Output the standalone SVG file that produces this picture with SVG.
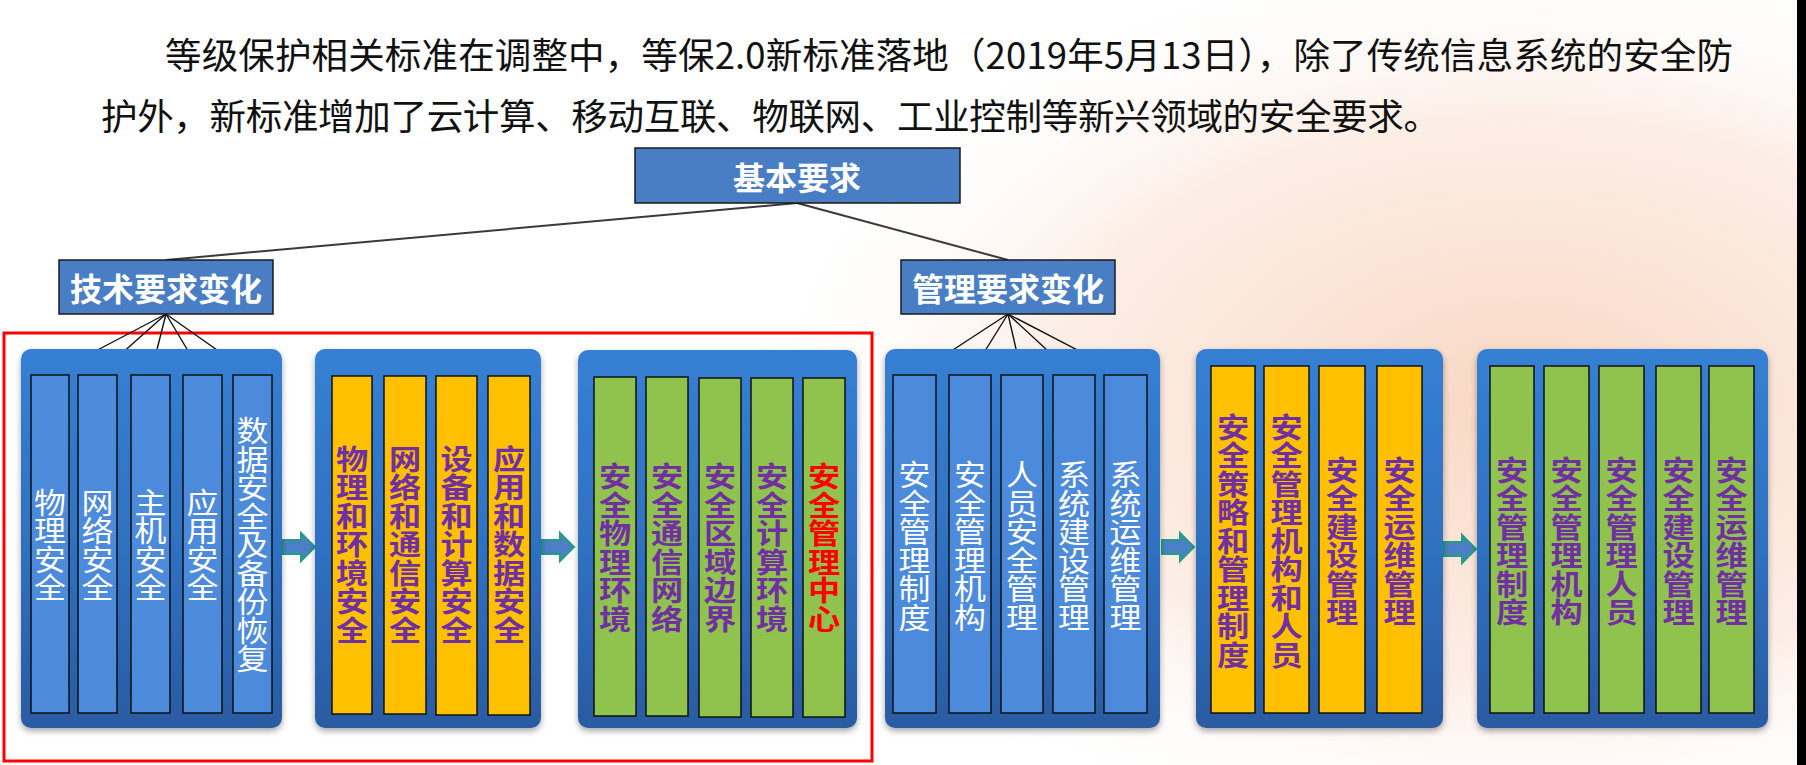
<svg xmlns="http://www.w3.org/2000/svg" width="1806" height="765" viewBox="0 0 1806 765">
<defs>
<style>
.para{font-family:"Noto Sans CJK SC","Noto Sans",sans-serif;font-size:36.5px;fill:#111}
.box{fill:#4A7EC4;stroke:#1a1a1a;stroke-width:1.5}
.lbl{font-family:"Noto Sans CJK SC",sans-serif;font-weight:bold;font-size:32px;fill:#fff;text-anchor:middle;dominant-baseline:central}
.panel{fill:url(#pg);filter:url(#sh)}
.cb{fill:#4C8ADB;stroke:#111;stroke-width:1.5}
.co{fill:#FFC000;stroke:#111;stroke-width:1.5}
.cg{fill:#90C34E;stroke:#111;stroke-width:1.5}
.vt{font-family:"Noto Sans CJK SC",sans-serif;text-anchor:middle;dominant-baseline:central}
.vw{fill:#fff;font-size:29px}
.vp{fill:#7030A0;font-weight:bold;font-size:28px}
.vr{fill:#FF0000;font-weight:bold;font-size:28px}
.ln{stroke:#3a3a3a;stroke-width:2;fill:none}
.fan{stroke:#111;stroke-width:1.4;fill:none}
.arr{fill:#4D7FC6;stroke:#22A07E;stroke-width:2;stroke-linejoin:miter}
</style>
<linearGradient id="pg" x1="0" y1="0" x2="0" y2="1">
<stop offset="0" stop-color="#3580D4"/>
<stop offset="0.55" stop-color="#2F70C0"/>
<stop offset="1" stop-color="#2A5BA2"/>
</linearGradient>
<radialGradient id="bgp" cx="1520" cy="400" r="780" gradientUnits="userSpaceOnUse" gradientTransform="translate(1520 400) scale(1 0.6) translate(-1520 -400)">
<stop offset="0" stop-color="#F7C9AE" stop-opacity="0.75"/>
<stop offset="0.6" stop-color="#F9D8C6" stop-opacity="0.45"/>
<stop offset="1" stop-color="#FFFFFF" stop-opacity="0"/>
</radialGradient>
<filter id="sh" x="-10%" y="-10%" width="120%" height="120%">
<feDropShadow dx="0" dy="3" stdDeviation="3" flood-color="#000" flood-opacity="0.35"/>
</filter>
<path id="arrow" d="M0,-7 H18 V-14 L32,0 L18,14 V7 H0 Z"/>
</defs>

<rect x="0" y="0" width="1806" height="765" fill="#fff"/>
<rect x="0" y="0" width="1806" height="765" fill="url(#bgp)"/>
<rect x="1797" y="0" width="9" height="765" fill="#000"/>

<g id="paragraph">
<text class="para" x="165" y="68.5" textLength="1568" lengthAdjust="spacing">等级保护相关标准在调整中，等保2.0新标准落地（2019年5月13日），除了传统信息系统的安全防</text>
<text class="para" x="101" y="130" textLength="1339" lengthAdjust="spacing">护外，新标准增加了云计算、移动互联、物联网、工业控制等新兴领域的安全要求。</text>
</g>

<rect id="highlight" x="4" y="333" width="868" height="428" fill="none" stroke="#FF0000" stroke-width="3"/>

<g id="connectors">
<line class="ln" x1="797" y1="203" x2="166" y2="260"/>
<line class="ln" x1="797" y1="203" x2="1008" y2="260"/>
<line class="fan" x1="166" y1="314" x2="50" y2="375"/>
<line class="fan" x1="166" y1="314" x2="97.5" y2="375"/>
<line class="fan" x1="166" y1="314" x2="150.5" y2="375"/>
<line class="fan" x1="166" y1="314" x2="202.5" y2="375"/>
<line class="fan" x1="166" y1="314" x2="252.5" y2="375"/>
<line class="fan" x1="1008" y1="314" x2="914.5" y2="375"/>
<line class="fan" x1="1008" y1="314" x2="970" y2="375"/>
<line class="fan" x1="1008" y1="314" x2="1022" y2="375"/>
<line class="fan" x1="1008" y1="314" x2="1074" y2="375"/>
<line class="fan" x1="1008" y1="314" x2="1125.5" y2="375"/>
<use href="#arrow" class="arr" x="283" y="547"/>
<use href="#arrow" class="arr" x="542" y="547"/>
<use href="#arrow" class="arr" x="1162" y="547"/>
<use href="#arrow" class="arr" x="1444" y="549"/>
</g>

<g id="node-basic">
<rect class="box" x="635" y="148" width="325" height="55"/>
<text class="lbl" x="797" y="176">基本要求</text>
</g>
<g id="node-tech">
<rect class="box" x="59" y="260" width="214" height="54"/>
<text class="lbl" x="166" y="287">技术要求变化</text>
</g>
<g id="node-mgmt">
<rect class="box" x="901" y="260" width="214" height="54"/>
<text class="lbl" x="1008" y="287">管理要求变化</text>
</g>

<g id="panel-tech-old">
<rect class="panel" x="21" y="349" width="261" height="379" rx="10"/>
<g id="t1"><rect class="cb" x="31" y="375" width="38" height="338"/>
<text class="vt vw" transform="matrix(1.1 0 0 1 -5 0)" x="50 50 50 50" y="501.25 529.75 558.25 586.75">物理安全</text></g>
<g id="t2"><rect class="cb" x="78" y="375" width="39" height="338"/>
<text class="vt vw" transform="matrix(1.1 0 0 1 -9.75 0)" x="97.5 97.5 97.5 97.5" y="501.25 529.75 558.25 586.75">网络安全</text></g>
<g id="t3"><rect class="cb" x="131" y="375" width="39" height="338"/>
<text class="vt vw" transform="matrix(1.1 0 0 1 -15.05 0)" x="150.5 150.5 150.5 150.5" y="501.25 529.75 558.25 586.75">主机安全</text></g>
<g id="t4"><rect class="cb" x="183" y="375" width="39" height="338"/>
<text class="vt vw" transform="matrix(1.1 0 0 1 -20.25 0)" x="202.5 202.5 202.5 202.5" y="501.25 529.75 558.25 586.75">应用安全</text></g>
<g id="t5"><rect class="cb" x="233" y="375" width="39" height="338"/>
<text class="vt vw" transform="matrix(1.1 0 0 1 -25.25 0)" x="252.5 252.5 252.5 252.5 252.5 252.5 252.5 252.5 252.5" y="430 458.5 487 515.5 544 572.5 601 629.5 658">数据安全及备份恢复</text></g>
</g>

<g id="panel-tech-mid">
<rect class="panel" x="315" y="349" width="226" height="379" rx="10"/>
<g id="m1"><rect class="co" x="332" y="376" width="40" height="338"/>
<text class="vt vp" transform="matrix(1.15 0 0 1 -52.8 0)" x="352 352 352 352 352 352 352" y="457.5 486 514.5 543 571.5 600 628.5">物理和环境安全</text></g>
<g id="m2"><rect class="co" x="384" y="376" width="42" height="338"/>
<text class="vt vp" transform="matrix(1.15 0 0 1 -60.75 0)" x="405 405 405 405 405 405 405" y="457.5 486 514.5 543 571.5 600 628.5">网络和通信安全</text></g>
<g id="m3"><rect class="co" x="436" y="376" width="41" height="339"/>
<text class="vt vp" transform="matrix(1.15 0 0 1 -68.475 0)" x="456.5 456.5 456.5 456.5 456.5 456.5 456.5" y="457.5 486 514.5 543 571.5 600 628.5">设备和计算安全</text></g>
<g id="m4"><rect class="co" x="488" y="376" width="42" height="339"/>
<text class="vt vp" transform="matrix(1.15 0 0 1 -76.35 0)" x="509 509 509 509 509 509 509" y="457.5 486 514.5 543 571.5 600 628.5">应用和数据安全</text></g>
</g>

<g id="panel-tech-new">
<rect class="panel" x="578" y="350" width="279" height="378" rx="10"/>
<g id="n1"><rect class="cg" x="594" y="377" width="42" height="339"/>
<text class="vt vp" transform="matrix(1.15 0 0 1 -92.25 0)" x="615 615 615 615 615 615" y="475.25 503.75 532.25 560.75 589.25 617.75">安全物理环境</text></g>
<g id="n2"><rect class="cg" x="646" y="377" width="42" height="339"/>
<text class="vt vp" transform="matrix(1.15 0 0 1 -100.05 0)" x="667 667 667 667 667 667" y="475.25 503.75 532.25 560.75 589.25 617.75">安全通信网络</text></g>
<g id="n3"><rect class="cg" x="699" y="378" width="42" height="339"/>
<text class="vt vp" transform="matrix(1.15 0 0 1 -108 0)" x="720 720 720 720 720 720" y="475.25 503.75 532.25 560.75 589.25 617.75">安全区域边界</text></g>
<g id="n4"><rect class="cg" x="751" y="378" width="42" height="339"/>
<text class="vt vp" transform="matrix(1.15 0 0 1 -115.8 0)" x="772 772 772 772 772 772" y="475.25 503.75 532.25 560.75 589.25 617.75">安全计算环境</text></g>
<g id="n5"><rect class="cg" x="803" y="378" width="42" height="339"/>
<text class="vt vr" transform="matrix(1.15 0 0 1 -123.6 0)" x="824 824 824 824 824 824" y="475.25 503.75 532.25 560.75 589.25 617.75">安全管理中心</text></g>
</g>

<g id="panel-mgmt-old">
<rect class="panel" x="885" y="349" width="275" height="379" rx="10"/>
<g id="g1"><rect class="cb" x="893" y="375" width="43" height="338"/>
<text class="vt vw" transform="matrix(1.1 0 0 1 -91.45 0)" x="914.5 914.5 914.5 914.5 914.5 914.5" y="473.75 502.25 530.75 559.25 587.75 616.25">安全管理制度</text></g>
<g id="g2"><rect class="cb" x="949" y="375" width="42" height="338"/>
<text class="vt vw" transform="matrix(1.1 0 0 1 -97 0)" x="970 970 970 970 970 970" y="473.75 502.25 530.75 559.25 587.75 616.25">安全管理机构</text></g>
<g id="g3"><rect class="cb" x="1001" y="375" width="42" height="338"/>
<text class="vt vw" transform="matrix(1.1 0 0 1 -102.2 0)" x="1022 1022 1022 1022 1022 1022" y="473.75 502.25 530.75 559.25 587.75 616.25">人员安全管理</text></g>
<g id="g4"><rect class="cb" x="1053" y="375" width="42" height="338"/>
<text class="vt vw" transform="matrix(1.1 0 0 1 -107.4 0)" x="1074 1074 1074 1074 1074 1074" y="473.75 502.25 530.75 559.25 587.75 616.25">系统建设管理</text></g>
<g id="g5"><rect class="cb" x="1104" y="375" width="43" height="338"/>
<text class="vt vw" transform="matrix(1.1 0 0 1 -112.55 0)" x="1125.5 1125.5 1125.5 1125.5 1125.5 1125.5" y="473.75 502.25 530.75 559.25 587.75 616.25">系统运维管理</text></g>
</g>

<g id="panel-mgmt-mid">
<rect class="panel" x="1196" y="349" width="247" height="379" rx="10"/>
<g id="k1"><rect class="co" x="1211" y="366" width="44" height="347"/>
<text class="vt vp" transform="matrix(1.15 0 0 1 -184.95 0)" x="1233 1233 1233 1233 1233 1233 1233 1233 1233" y="425.5 454 482.5 511 539.5 568 596.5 625 653.5">安全策略和管理制度</text></g>
<g id="k2"><rect class="co" x="1264" y="366" width="45" height="347"/>
<text class="vt vp" transform="matrix(1.15 0 0 1 -192.975 0)" x="1286.5 1286.5 1286.5 1286.5 1286.5 1286.5 1286.5 1286.5 1286.5" y="425.5 454 482.5 511 539.5 568 596.5 625 653.5">安全管理机构和人员</text></g>
<g id="k3"><rect class="co" x="1319" y="366" width="46" height="347"/>
<text class="vt vp" transform="matrix(1.15 0 0 1 -201.3 0)" x="1342 1342 1342 1342 1342 1342" y="468.75 497.25 525.75 554.25 582.75 611.25">安全建设管理</text></g>
<g id="k4"><rect class="co" x="1377" y="366" width="45" height="347"/>
<text class="vt vp" transform="matrix(1.15 0 0 1 -209.925 0)" x="1399.5 1399.5 1399.5 1399.5 1399.5 1399.5" y="468.75 497.25 525.75 554.25 582.75 611.25">安全运维管理</text></g>
</g>

<g id="panel-mgmt-new">
<rect class="panel" x="1477" y="349" width="291" height="379" rx="10"/>
<g id="s1"><rect class="cg" x="1490" y="366" width="44" height="347"/>
<text class="vt vp" transform="matrix(1.15 0 0 1 -226.8 0)" x="1512 1512 1512 1512 1512 1512" y="468.75 497.25 525.75 554.25 582.75 611.25">安全管理制度</text></g>
<g id="s2"><rect class="cg" x="1544" y="366" width="45" height="347"/>
<text class="vt vp" transform="matrix(1.15 0 0 1 -234.975 0)" x="1566.5 1566.5 1566.5 1566.5 1566.5 1566.5" y="468.75 497.25 525.75 554.25 582.75 611.25">安全管理机构</text></g>
<g id="s3"><rect class="cg" x="1599" y="366" width="45" height="347"/>
<text class="vt vp" transform="matrix(1.15 0 0 1 -243.225 0)" x="1621.5 1621.5 1621.5 1621.5 1621.5 1621.5" y="468.75 497.25 525.75 554.25 582.75 611.25">安全管理人员</text></g>
<g id="s4"><rect class="cg" x="1656" y="366" width="45" height="347"/>
<text class="vt vp" transform="matrix(1.15 0 0 1 -251.775 0)" x="1678.5 1678.5 1678.5 1678.5 1678.5 1678.5" y="468.75 497.25 525.75 554.25 582.75 611.25">安全建设管理</text></g>
<g id="s5"><rect class="cg" x="1709" y="366" width="45" height="347"/>
<text class="vt vp" transform="matrix(1.15 0 0 1 -259.725 0)" x="1731.5 1731.5 1731.5 1731.5 1731.5 1731.5" y="468.75 497.25 525.75 554.25 582.75 611.25">安全运维管理</text></g>
</g>
</svg>
